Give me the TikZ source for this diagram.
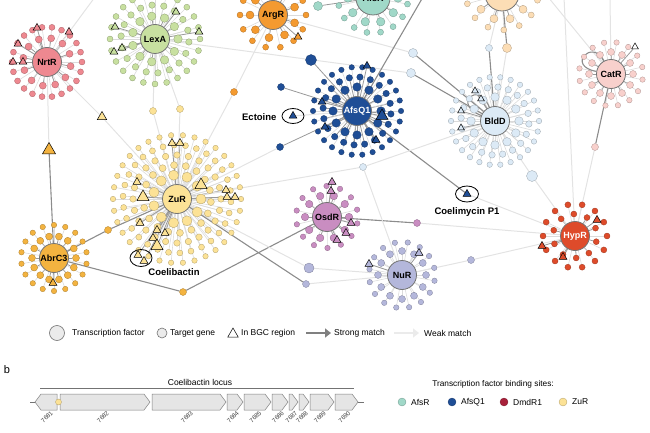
\documentclass[tikz,border=0pt]{standalone}
\usepackage{fontspec}
\setmainfont{Liberation Sans}
\usetikzlibrary{shapes.geometric,arrows.meta}

\definecolor{nrtrcol}{HTML}{EE8890}
\definecolor{lexacol}{HTML}{C8E0A0}
\definecolor{argrcol}{HTML}{F49A30}
\definecolor{afsrcol}{HTML}{A0D8C8}
\definecolor{peachcol}{HTML}{FCDDB5}
\definecolor{catrcol}{HTML}{F8D0CC}
\definecolor{afsqcol}{HTML}{1F4E96}
\definecolor{blddcol}{HTML}{DCEAF6}
\definecolor{zurcol}{HTML}{FCE296}
\definecolor{abrcol}{HTML}{F3B340}
\definecolor{osdrcol}{HTML}{C98DC1}
\definecolor{nurcol}{HTML}{B4B7DB}
\definecolor{hyprcol}{HTML}{DE4B2A}
\definecolor{dmdrcol}{HTML}{A8203A}

\pgfdeclarelayer{bg}
\pgfsetlayers{bg,main}

% rings of targets: hub/colour/radius/count/start angle/size/spoke style
\newcommand{\ringlist}{%
	nrtr/nrtrcol/24/12/10/7/dspoke, nrtr/nrtrcol/35/22/0/6/spoke,
	lexa/lexacol/23/11/0/8.5/dspoke, lexa/lexacol/34/18/5/6.5/spoke, lexa/lexacol/45/24/0/6/spoke,
	argr/argrcol/23/9/20/8/dspoke, argr/argrcol/33/14/0/6/spoke,
	afsr/afsrcol/25/10/0/8.5/dspoke, afsr/afsrcol/35/16/10/6/spoke,
	peach/peachcol/26/10/0/8/dspoke, peach/peachcol/36/14/10/6/spoke,
	catr/catrcol/22/12/0/7/dspoke, catr/catrcol/32/16/10/5.5/spoke,
	afsq/afsqcol/24/12/0/8.5/dspoke, afsq/afsqcol/34/20/5/6.5/dspoke, afsq/afsqcol/44/26/0/5.5/spoke,
	bldd/blddcol/24/12/0/8.5/spoke, bldd/blddcol/34/20/5/6.5/spoke, bldd/blddcol/44/26/0/5.5/spoke,
	zur/zurcol/24/11/0/10/spoke, zur/zurcol/34/18/5/7/spoke, zur/zurcol/44/24/0/6.5/spoke,
	zur/zurcol/54/30/3/6/spoke, zur/zurcol/64/34/0/5.5/spoke,
	abrc/abrcol/22/14/0/7/dspoke, abrc/abrcol/33/18/10/5.5/spoke,
	osdr/osdrcol/22/10/0/7.5/dspoke, osdr/osdrcol/31/14/12/5.5/spoke,
	nur/nurcol/24/12/0/7/spoke, nur/nurcol/33/16/10/5.5/spoke,
	hypr/hyprcol/22/10/15/6/dspoke, hypr/hyprcol/32/14/0/6/spoke}
% targets in a BGC region: hub/colour/size/places
\newcommand{\trilist}{%
	nrtr/nrtrcol/9/{(37,28),(69,32),(18,44),(13,62),(23,62)},
	lexa/lexacol/9/{(115,27),(114,52),(122,48),(199,32),(176,12)},
	argr/argrcol/9/{(298,37)},
	catr/white/8/{(635,47)},
	afsq/afsqcol/9/{(367,66),(322,102),(325,127),(376,140)},
	afsq/afsqcol/14/{(382,116)},
	bldd/blddcol/8/{(475,91),(481,99),(461,111),(461,128)},
	zur/zurcol/9/{(172,143),(180,143),(137,182),(226,190),(227,197),(235,197),(140,223),(157,230),(165,233),(153,238),(138,255),(144,261)},
	zur/zurcol/14/{(143,197),(201,185),(157,246)},
	abrc/abrcol/9/{(53,283)},
	osdr/osdrcol/9/{(332,182),(331,191),(351,223),(346,233),(337,240)},
	nur/nurcol/9/{(369,264),(419,253)},
	hypr/hyprcol/9/{(597,220),(542,246),(563,257)}}
% one gene of the locus: left end, right end, label
\newcommand{\gene}[3]{%
	\draw[gene] (#1,394) -- ({#2-6},394) -- (#2,402) -- ({#2-6},410) -- (#1,410) -- cycle;
	\node[glabel] at ({(#1+#2)/2+3},412) {#3};}

\begin{document}
\begin{tikzpicture}[x=1pt, y=-1pt,
	hub/.style={circle, draw=black!55, fill=#1, line width=0.8pt, minimum size=29pt, inner sep=0pt, font=\bfseries\fontsize{9}{10}\selectfont},
	sat/.style={circle, draw=#1!70!black, fill=#1, line width=0.3pt, inner sep=0pt},
	tri/.style={regular polygon, regular polygon sides=3, draw=black, fill=#1, line width=0.5pt, inner sep=0pt},
	spoke/.style={black!14, line width=0.6pt},
	dspoke/.style={black!40, line width=0.8pt},
	weak/.style={black!11, line width=1pt},
	strong/.style={black!45, line width=1.1pt},
	tag/.style={font=\bfseries\fontsize{9.5}{11}\selectfont},
	bubble/.style={ellipse, draw=black, line width=0.8pt, inner sep=0pt},
	keytext/.style={font=\fontsize{8.5}{10}\selectfont, anchor=west, inner sep=1pt},
	gene/.style={draw=black!50, fill=black!10, line width=0.5pt},
	glabel/.style={font=\fontsize{6.2}{7}\selectfont, text=black!75, rotate=45, anchor=east, inner sep=0pt}]
	\useasboundingbox (0,0) rectangle (650,433);

	\node[hub=nrtrcol] (nrtr) at (47,62) {NrtR};
	\node[hub=lexacol] (lexa) at (155,39) {LexA};
	\node[hub=argrcol] (argr) at (273,15) {ArgR};
	\node[hub=afsrcol, minimum size=34pt] (afsr) at (373,-2) {AfsR};
	\node[hub=peachcol, minimum size=34pt] (peach) at (502,-6) {};
	\node[hub=catrcol] (catr) at (611,74) {CatR};
	\node[hub=afsqcol, text=white] (afsq) at (357,111) {AfsQ1};
	\node[hub=blddcol] (bldd) at (495,121) {BldD};
	\node[hub=zurcol] (zur) at (177,199) {ZuR};
	\node[hub=abrcol] (abrc) at (54,258) {AbrC3};
	\node[hub=osdrcol] (osdr) at (327,217) {OsdR};
	\node[hub=nurcol] (nur) at (402,275) {NuR};
	\node[hub=hyprcol, text=white] (hypr) at (575,236) {HypR};

	\foreach \h/\c/\r/\n/\s/\z/\st in \ringlist {
		\foreach \k in {1,...,\n} {
			\pgfmathsetmacro{\ang}{\s+360*\k/\n}
			\node[sat=\c, minimum size=\z pt] (\h\r-\k) at ([shift={(\ang:\r)}]\h) {};
		}
	}
	\foreach \h/\c/\z/\pl in \trilist {
		\foreach \p [count=\i] in \pl {
			\node[tri=\c, minimum size=\z pt] (\h-t\z-\i) at \p {};
		}
	}

	\node[tri=abrcol, minimum size=15pt] (t1) at (49,150) {};
	\node[tri=zurcol, minimum size=11pt] (t2) at (102,117) {};
	\node[sat=zurcol, minimum size=7pt] (y1) at (153,111) {};
	\node[sat=zurcol, minimum size=7pt] (y2) at (180,109) {};
	\node[sat=argrcol, minimum size=7pt] (o1) at (234,92) {};
	\node[sat=afsqcol, minimum size=11pt] (b1) at (311,60) {};
	\node[sat=afsqcol, minimum size=7pt] (b2) at (281,87) {};
	\node[sat=afsqcol, minimum size=7pt] (b3) at (280,147) {};
	\node[sat=afsrcol, minimum size=9pt] (g1) at (318,6) {};
	\node[sat=blddcol, minimum size=9pt] (l1) at (413,53) {};
	\node[sat=blddcol, minimum size=9pt] (l2) at (411,73) {};
	\node[sat=blddcol, minimum size=7pt] (l3) at (489,48) {};
	\node[sat=blddcol, minimum size=7pt] (l4) at (363,167) {};
	\node[sat=blddcol, minimum size=11pt] (l5) at (532,176) {};
	\node[sat=peachcol, minimum size=9pt] (p1) at (507,48) {};
	\node[sat=catrcol, minimum size=7pt] (k1) at (595,147) {};
	\node[sat=abrcol, minimum size=7pt] (o2) at (108,230) {};
	\node[sat=abrcol, minimum size=7pt] (o3) at (183,292) {};
	\node[sat=nurcol, minimum size=10pt] (v1) at (309,268) {};
	\node[sat=nurcol, minimum size=7pt] (v2) at (306,284) {};
	\node[sat=nurcol, minimum size=7pt] (v3) at (471,260) {};
	\node[sat=osdrcol, minimum size=7pt] (m1) at (417,223) {};

	\node[tri=afsqcol, minimum size=9pt] (ect) at (293,116) {};
	\node[bubble, minimum width=22pt, minimum height=15pt] (ectbox) at (293,116) {};
	\node[tag, anchor=east] (ectlab) at (280,117) {Ectoine};
	\node[tri=afsqcol, minimum size=9pt] (coel) at (467,194) {};
	\node[bubble, minimum width=23pt, minimum height=16pt] (coelbox) at (467,194) {};
	\node[tag] (coellab) at (467,212) {Coelimycin P1};
	\node[bubble, minimum width=22pt, minimum height=17pt] (cbbox) at (141,258) {};
	\node[tag] (cblab) at (174,272) {Coelibactin};

	\coordinate (topa) at (95,-3);
	\coordinate (topb) at (423,-3);
	\coordinate (topc) at (564,-3);
	\coordinate (topd) at (610,-3);
	\coordinate (tope) at (548,-3);
	\begin{pgfonlayer}{bg}
		\foreach \h/\c/\r/\n/\s/\z/\st in \ringlist {
			\foreach \k in {1,...,\n} {
				\draw[\st] (\h) -- (\h\r-\k);
			}
		}
		\foreach \h/\c/\z/\pl in \trilist {
			\foreach \p [count=\i] in \pl {
				\draw[dspoke] (\h) -- (\h-t\z-\i);
			}
		}
		\draw[weak] (nrtr) -- (t1);
		\draw[strong] (abrc) -- (t1);
		\draw[weak] (nrtr) -- (t2) -- (zur);
		\draw[weak] (nrtr) -- (topa);
		\draw[weak] (lexa) -- (y1) -- (zur);
		\draw[weak] (lexa) -- (y2) -- (zur);
		\draw[weak] (argr) -- (o1) -- (zur);
		\draw[weak] (lexa) -- (l2);
		\draw[weak] (argr) -- (l1);
		\draw[strong] (l1) -- (bldd);
		\draw[strong] (l2) -- (bldd);
		\draw[dspoke] (afsr) -- (g1);
		\draw[dspoke] (afsq) -- (b1);
		\draw[dspoke] (afsq) -- (b2);
		\draw[dspoke] (afsq) -- (b3);
		\draw[weak] (b3) -- (zur);
		\draw[strong] (afsq) -- (coel);
		\draw[weak] (coel) -- (hypr);
		\draw[strong] (afsq) -- (topb);
		\draw[strong] (peach) -- (p1);
		\draw[weak] (p1) -- (bldd);
		\draw[weak] (peach) -- (l3);
		\draw[strong] (l3) -- (bldd);
		\draw[weak] (bldd) -- (l5) -- (hypr);
		\draw[strong] (catr) -- (k1);
		\draw[weak] (k1) -- (hypr);
		\draw[weak] (topc) -- (hypr);
		\draw[weak] (topd) -- (catr);
		\draw[weak] (tope) -- (catr);
		\draw[strong] (zur) -- (o2) -- (abrc);
		\draw[strong] (abrc) -- (o3) -- (osdr);
		\draw[strong] (zur) -- (v2);
		\draw[weak] (v2) -- (nur);
		\draw[weak] (zur) -- (v1) -- (nur);
		\draw[strong] (osdr) -- (m1);
		\draw[weak] (m1) -- (hypr);
		\draw[weak] (nur) -- (v3) -- (hypr);
		\draw[weak] (zur) -- (l4) -- (nur);
		\draw[weak] (l4) -- (bldd);
		\draw[weak] (afsq) -- (ect);
		\draw[strong] (catr) .. controls (592,38) and (566,66) .. (catr);
		\draw[strong] (bldd) .. controls (478,80) and (452,104) .. (bldd);
	\end{pgfonlayer}

	\node[circle, draw=black!55, fill=black!8, line width=0.6pt, minimum size=15pt, inner sep=0pt] (keytf) at (57,333) {};
	\node[keytext] (keytftext) at (71,333) {Transcription factor};
	\node[circle, draw=black!55, fill=black!8, line width=0.6pt, minimum size=10pt, inner sep=0pt] (keytg) at (162,333) {};
	\node[keytext] (keytgtext) at (169,333) {Target gene};
	\node[tri=white, minimum size=12pt] (keybgc) at (233,334) {};
	\node[keytext] (keybgctext) at (240,333) {In BGC region};
	\coordinate (strongfrom) at (306,333);
	\coordinate (strongto) at (331,333);
	\draw[black!50, line width=1.8pt, -{Triangle[length=6pt,width=9pt]}] (strongfrom) -- (strongto);
	\node[keytext] (strongtext) at (333,333) {Strong match};
	\coordinate (weakfrom) at (394,333);
	\coordinate (weakto) at (419,333);
	\draw[black!8, line width=1.8pt, -{Triangle[length=6pt,width=9pt]}] (weakfrom) -- (weakto);
	\node[keytext] (weaktext) at (423,333) {Weak match};

	\node[font=\fontsize{11}{13}\selectfont] (partb) at (7,370) {b};
	\draw[black!55, line width=0.7pt] (40,388) -- (354,388);
	\node[font=\fontsize{8.5}{10}\selectfont, anchor=south, inner sep=1pt] (locus) at (200,387) {Coelibactin locus};
	\draw[black!55, line width=0.7pt] (30,402) -- (36,402);
	\draw[black!55, line width=0.7pt] (358,402) -- (364,402);
	\draw[gene] (57,394) -- (41,394) -- (35,402) -- (41,410) -- (57,410) -- cycle;
	\node[glabel] at (52,412) {7681};
	\gene{60}{150}{7682}
	\gene{152}{226}{7683}
	\gene{227}{243}{7684}
	\gene{244}{271}{7685}
	\gene{272}{288}{7686}
	\gene{289}{298}{7687}
	\gene{299}{309}{7688}
	\gene{310}{334}{7689}
	\gene{335}{358}{7690}
	\node[sat=zurcol, minimum size=6pt] (site) at (58.5,402) {};

	\node[font=\fontsize{8.3}{10}\selectfont] (tfbs) at (493,384) {Transcription factor binding sites:};
	\node[sat=afsrcol, minimum size=8pt] (kafsr) at (402,402) {};
	\node[keytext] at (410,402) {AfsR};
	\node[sat=afsqcol, minimum size=8pt] (kafsq) at (452,402) {};
	\node[keytext] at (460,402) {AfsQ1};
	\node[sat=dmdrcol, minimum size=8pt] (kdmdr) at (504,402) {};
	\node[keytext] at (512,402) {DmdR1};
	\node[sat=zurcol, minimum size=8pt] (kzur) at (563,402) {};
	\node[keytext] at (571,402) {ZuR};
\end{tikzpicture}
\end{document}
